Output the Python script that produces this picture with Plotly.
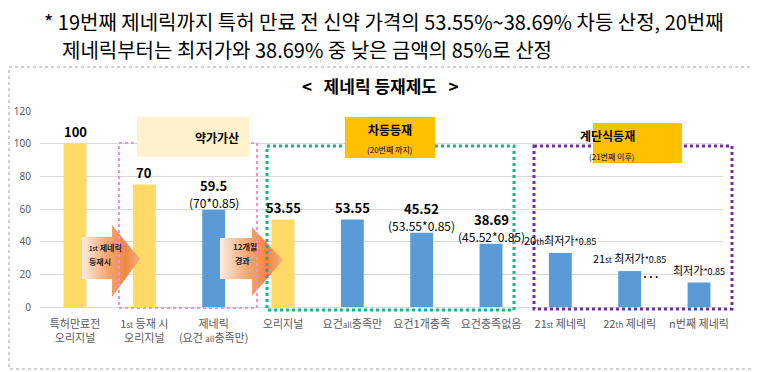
import plotly.graph_objects as go

# ---------------- data ----------------
categories = [
    "특허만료전<br>오리지널",
    "1<span style='font-size:8px'>st</span> 등재 시<br>오리지널",
    "제네릭<br>(요건 <span style='font-size:8px'>all</span>충족만)",
    "오리지널",
    "요건<span style='font-size:8px'>all</span>충족만",
    "요건1개충족",
    "요건충족없음",
    "21<span style='font-size:8px'>st</span> 제네릭",
    "22<span style='font-size:8px'>th</span> 제네릭",
    "n번째 제네릭",
]
bar_values = [100, 75, 59.5, 53.55, 53.55, 45.52, 38.69, 33, 22, 15]
bar_groups = ["orig", "orig", "gen", "orig", "gen", "gen", "gen", "gen", "gen", "gen"]
value_labels = ["100", "70", "59.5", "53.55", "53.55", "45.52", "38.69", "", "", ""]
formula_labels = ["", "", "(70*0.85)", "", "", "(53.55*0.85)", "(45.52*0.85)", "", "", ""]
price_labels = ["", "", "", "", "", "", "",
                "20<span style='font-size:8px'>th</span>최저가<span style='font-size:9px'>*0.85</span>",
                "21<span style='font-size:8px'>st</span> 최저가<span style='font-size:9px'>*0.85</span>",
                "최저가<span style='font-size:9px'>*0.85</span>"]
y_ticks = [0, 20, 40, 60, 80, 100, 120]

header_line1 = "* 19번째 제네릭까지 특허 만료 전 신약 가격의 53.55%~38.69% 차등 산정, 20번째"
header_line2 = "제네릭부터는 최저가와 38.69% 중 낮은 금액의 85%로 산정"
title_text = "<   제네릭 등재제도   >"

# ---------------- style ----------------
PAGE_W, PAGE_H = 760, 372
OFF = 8                      # page body margin
W, H = PAGE_W - OFF, PAGE_H - OFF
KR = "Noto Sans CJK KR"
NUM = "Liberation Sans Narrow, Noto Sans CJK KR, sans-serif"
COLORS = {"orig": "#FFD966", "gen": "#5B9BD5"}
GRAY = "#595959"

def px(x):
    return (x - OFF) / W

def py(y):
    return 1 - (y - OFF) / H

fig = go.Figure()

fig.add_trace(go.Bar(
    x=list(range(len(categories))), y=bar_values,
    marker=dict(color=[COLORS[g] for g in bar_groups], line=dict(width=0)),
    width=0.33, hoverinfo="skip", showlegend=False,
))

# gradient arrows on a pixel-space overlay subplot
def arrow(x0, x1, x2, bt, bb, ht, hb, tip_y):
    xs = [x0, x1, x1, x2, x1, x1, x0, x0]
    ys = [bt, bt, ht, tip_y, hb, bb, bb, bt]
    return xs, ys

for args in [(82, 112, 140, 237, 279, 225, 297, 259),
             (220, 252, 283, 238, 279, 227, 296, 260)]:
    xs, ys = arrow(*args)
    fig.add_trace(go.Scatter(
        x=xs, y=ys, xaxis="x2", yaxis="y2", mode="lines", fill="toself",
        line=dict(width=0, color="rgba(0,0,0,0)"),
        fillgradient=dict(type="horizontal",
                          colorscale=[[0, "#FDEBDF"], [0.45, "#F4A56E"], [0.75, "#EF8844"], [1, "#F5B080"]]),
        hoverinfo="skip", showlegend=False,
    ))

annotations = []
# value labels
for i, v in enumerate(bar_values):
    if formula_labels[i]:
        annotations.append(dict(x=i, y=v, xref="x", yref="y", text=formula_labels[i],
                                showarrow=False, yanchor="middle", yshift=7,
                                font=dict(family=NUM, size=12, color="#000")))
        annotations.append(dict(x=i, y=v, xref="x", yref="y", text="<b>%s</b>" % value_labels[i],
                                showarrow=False, yanchor="middle", yshift=24,
                                font=dict(family=NUM, size=13, color="#000")))
    elif value_labels[i]:
        annotations.append(dict(x=i, y=v, xref="x", yref="y", text="<b>%s</b>" % value_labels[i],
                                showarrow=False, yanchor="middle", yshift=12,
                                font=dict(family=NUM, size=13, color="#000")))
    if price_labels[i]:
        annotations.append(dict(x=i, y=v, xref="x", yref="y", text=price_labels[i],
                                showarrow=False, yanchor="middle", yshift=13,
                                font=dict(family=KR, size=11, color="#000")))

# header text
annotations.append(dict(x=px(43), y=py(22), xref="paper", yref="paper", text=header_line1,
                        showarrow=False, xanchor="left", yanchor="middle", borderpad=0,
                        font=dict(family=KR, size=20, color="#000")))
annotations.append(dict(x=px(61), y=py(49), xref="paper", yref="paper", text=header_line2,
                        showarrow=False, xanchor="left", yanchor="middle", borderpad=0,
                        font=dict(family=KR, size=20, color="#000")))
# chart title
annotations.append(dict(x=px(380), y=py(85), xref="paper", yref="paper", text="<b>%s</b>" % title_text,
                        showarrow=False, xanchor="center", yanchor="middle",
                        font=dict(family=KR, size=17, color="#000")))

# boxes text
annotations.append(dict(x=px(193), y=py(137), xref="paper", yref="paper", text="<b>약가가산</b>",
                        showarrow=False, font=dict(family=KR, size=12, color="#000")))
annotations.append(dict(x=px(390), y=py(130), xref="paper", yref="paper", text="<b>차등등재</b>",
                        showarrow=False, font=dict(family=KR, size=12, color="#000")))
annotations.append(dict(x=px(390), y=py(150), xref="paper", yref="paper", text="(20번째 까지)",
                        showarrow=False, font=dict(family=KR, size=8, color="#000")))
annotations.append(dict(x=px(637), y=py(135), xref="paper", yref="paper", text="<b>계단식등재</b>",
                        showarrow=False, font=dict(family=KR, size=12, color="#000")))
annotations.append(dict(x=px(637), y=py(156), xref="paper", yref="paper", text="(21번째 이후)",
                        showarrow=False, font=dict(family=KR, size=8, color="#000")))
# arrow texts
annotations.append(dict(x=px(87), y=py(255), xref="paper", yref="paper",
                        text="<b><span style='font-size:6px'>1st</span> 제네릭</b>",
                        showarrow=False, xanchor="left", font=dict(family=KR, size=8, color="#222")))
annotations.append(dict(x=px(87), y=py(269), xref="paper", yref="paper", text="<b>등재시</b>",
                        showarrow=False, xanchor="left", font=dict(family=KR, size=8, color="#222")))
annotations.append(dict(x=px(231), y=py(254), xref="paper", yref="paper", text="<b>12개월</b>",
                        showarrow=False, xanchor="left", font=dict(family=KR, size=8, color="#222")))
annotations.append(dict(x=px(233), y=py(268), xref="paper", yref="paper", text="<b>경과</b>",
                        showarrow=False, xanchor="left", font=dict(family=KR, size=8, color="#222")))
# ellipsis
annotations.append(dict(x=px(662), y=py(286), xref="paper", yref="paper", text="<b>···</b>",
                        showarrow=False, font=dict(family=KR, size=10, color="#000")))

shapes = []
# outer frame
shapes.append(dict(type="rect", xref="paper", yref="paper", x0=px(9), x1=px(754), y0=py(67), y1=py(369),
                   line=dict(color="#A0A0A0", width=1, dash="dot"), layer="below"))
# dotted group frames
shapes.append(dict(type="rect", xref="paper", yref="paper", x0=px(119), x1=px(257), y0=py(143), y1=py(308),
                   line=dict(color="#EE90EA", width=2, dash="dot"), layer="above"))
shapes.append(dict(type="rect", xref="paper", yref="paper", x0=px(267), x1=px(514), y0=py(146), y1=py(310),
                   line=dict(color="#12B886", width=3, dash="dot"), layer="above"))
shapes.append(dict(type="rect", xref="paper", yref="paper", x0=px(534), x1=px(732), y0=py(146), y1=py(309),
                   line=dict(color="#7030A0", width=3, dash="dot"), layer="above"))
# label boxes
shapes.append(dict(type="rect", xref="paper", yref="paper", x0=px(137), x1=px(249), y0=py(117), y1=py(157),
                   fillcolor="#FFF2CC", line=dict(width=0), layer="above"))
shapes.append(dict(type="rect", xref="paper", yref="paper", x0=px(345), x1=px(435), y0=py(117), y1=py(158),
                   fillcolor="#FFC000", line=dict(width=0), layer="above"))
shapes.append(dict(type="rect", xref="paper", yref="paper", x0=px(593), x1=px(682), y0=py(123), y1=py(163),
                   fillcolor="#FFC000", line=dict(width=0), layer="above"))

fig.update_layout(
    width=W, height=H, autosize=False,
    margin=dict(l=0, r=0, t=0, b=0, pad=0, autoexpand=False),
    paper_bgcolor="white", plot_bgcolor="rgba(0,0,0,0)",
    showlegend=False,
    xaxis=dict(domain=[px(40), px(723)], range=[-0.505, 9.346], autorange=False, automargin=False,
               tickmode="array", tickvals=list(range(len(categories))), ticktext=categories,
               showgrid=False, zeroline=False, showline=False, ticks="",
               tickfont=dict(family=KR, size=11, color=GRAY), ticklabelstandoff=9),
    yaxis=dict(domain=[py(307), py(111)], range=[0, 120], autorange=False, automargin=False,
               tickmode="array", tickvals=y_ticks,
               showgrid=True, gridcolor="#D9D9D9", gridwidth=1,
               zeroline=True, zerolinecolor="#D9D9D9", zerolinewidth=1,
               showline=False, ticks="",
               tickfont=dict(family="Noto Sans", size=10, color=GRAY), ticklabelstandoff=8),
    xaxis2=dict(domain=[0, 1], range=[OFF, PAGE_W], visible=False, anchor="y2", fixedrange=True,
                autorange=False, automargin=False),
    yaxis2=dict(domain=[0, 1], range=[PAGE_H, OFF], visible=False, anchor="x2", fixedrange=True,
                autorange=False, automargin=False),
    annotations=annotations,
    shapes=shapes,
)

fig.write_html("out.html")
